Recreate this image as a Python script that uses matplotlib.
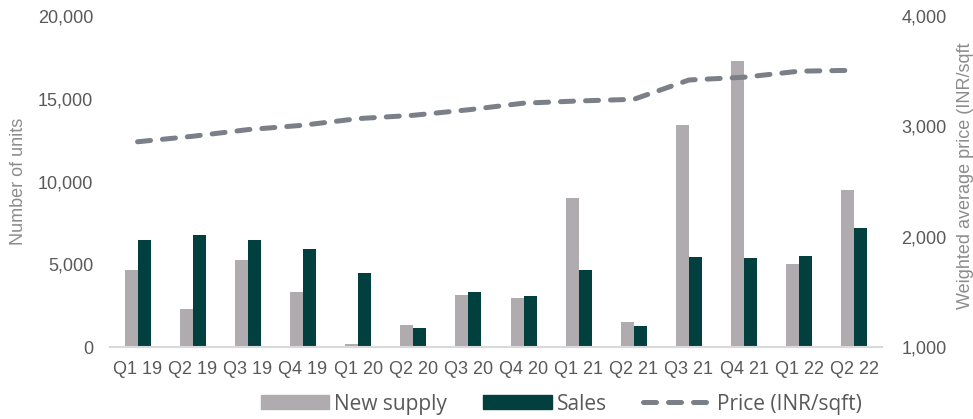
import numpy as np
import matplotlib.pyplot as plt
from matplotlib.patches import Patch
from matplotlib.lines import Line2D

# quarterly residential data
quarters = ["Q1 19", "Q2 19", "Q3 19", "Q4 19", "Q1 20", "Q2 20", "Q3 20",
            "Q4 20", "Q1 21", "Q2 21", "Q3 21", "Q4 21", "Q1 22", "Q2 22"]
new_supply = [4650, 2300, 5250, 3330, 180, 1300, 3120,
              2960, 9020, 1510, 13400, 17280, 5020, 9470]
sales = [6450, 6750, 6450, 5950, 4480, 1130, 3300,
         3080, 4630, 1250, 5450, 5400, 5520, 7200]
price = [2860, 2910, 2970, 3010, 3070, 3100, 3150,
         3210, 3230, 3245, 3420, 3445, 3500, 3508]

GREY = "#b0abae"
GREEN = "#023f3f"
LINE = "#7b8088"
TICK = "#595959"
LABEL = "#8c8c8c"

plt.rcParams['font.family'] = ['Liberation Sans', 'DejaVu Sans']

fig = plt.figure(figsize=(9.73, 4.19), dpi=100)
ax = fig.add_axes([110 / 973, 72 / 419, 772 / 973, 331 / 419])
ax2 = ax.twinx()

x = np.arange(len(quarters))
w = 0.236
ax.bar(x - w / 2, new_supply, width=w, color=GREY, zorder=2)
ax.bar(x + w / 2, sales, width=w, color=GREEN, zorder=2)

ax.set_xlim(-0.5, len(quarters) - 0.5)
ax.set_ylim(0, 20000)
ax.set_yticks([0, 5000, 10000, 15000, 20000])
ax.set_yticklabels([f"{v:,}" for v in ax.get_yticks().astype(int)])
ax.set_xticks(x)
ax.set_xticklabels(quarters)
ax.tick_params(axis='both', length=0, labelsize=13, colors=TICK)
ax.tick_params(axis='y', pad=12)
ax.tick_params(axis='x', pad=10)
ax.set_ylabel("Number of units", fontsize=13, color=LABEL)
ax.yaxis.set_label_coords(-0.107, 0.5)

for s in ax.spines.values():
    s.set_visible(False)
ax.spines['bottom'].set_visible(True)
ax.spines['bottom'].set_color("#d9d9d9")
ax.spines['bottom'].set_linewidth(1.5)

# price line on the secondary axis
ax2.plot(x, price, color=LINE, lw=3.6, ls=(0, (2.6, 2.4)),
         dash_capstyle='round', zorder=3)
ax2.set_ylim(1000, 4000)
ax2.set_yticks([1000, 2000, 3000, 4000])
ax2.set_yticklabels([f"{v:,}" for v in [1000, 2000, 3000, 4000]])
ax2.tick_params(axis='y', length=0, labelsize=13, colors=TICK, pad=14)
for s in ax2.spines.values():
    s.set_visible(False)

fig.text(966 / 973, 1 - 176 / 419, "Weighted average price (INR/sqft",
         rotation=90, ha='center', va='center', fontsize=13, color=LABEL)

handles = [Patch(color=GREY, label="New supply"),
           Patch(color=GREEN, label="Sales"),
           Line2D([], [], color=LINE, lw=3.6, ls=(0, (2.6, 2.4)),
                  dash_capstyle='round', label="Price (INR/sqft)")]
fig.legend(handles=handles, loc='center', bbox_to_anchor=(561 / 973, 1 - 404 / 419),
           ncol=3, frameon=False, handlelength=3.3, handleheight=0.68,
           handletextpad=0.22, columnspacing=1.75, borderpad=0,
           prop={'family': ['Open Sans', 'DejaVu Sans'], 'size': 15},
           labelcolor=TICK)

fig.savefig("out.png", dpi=100)
